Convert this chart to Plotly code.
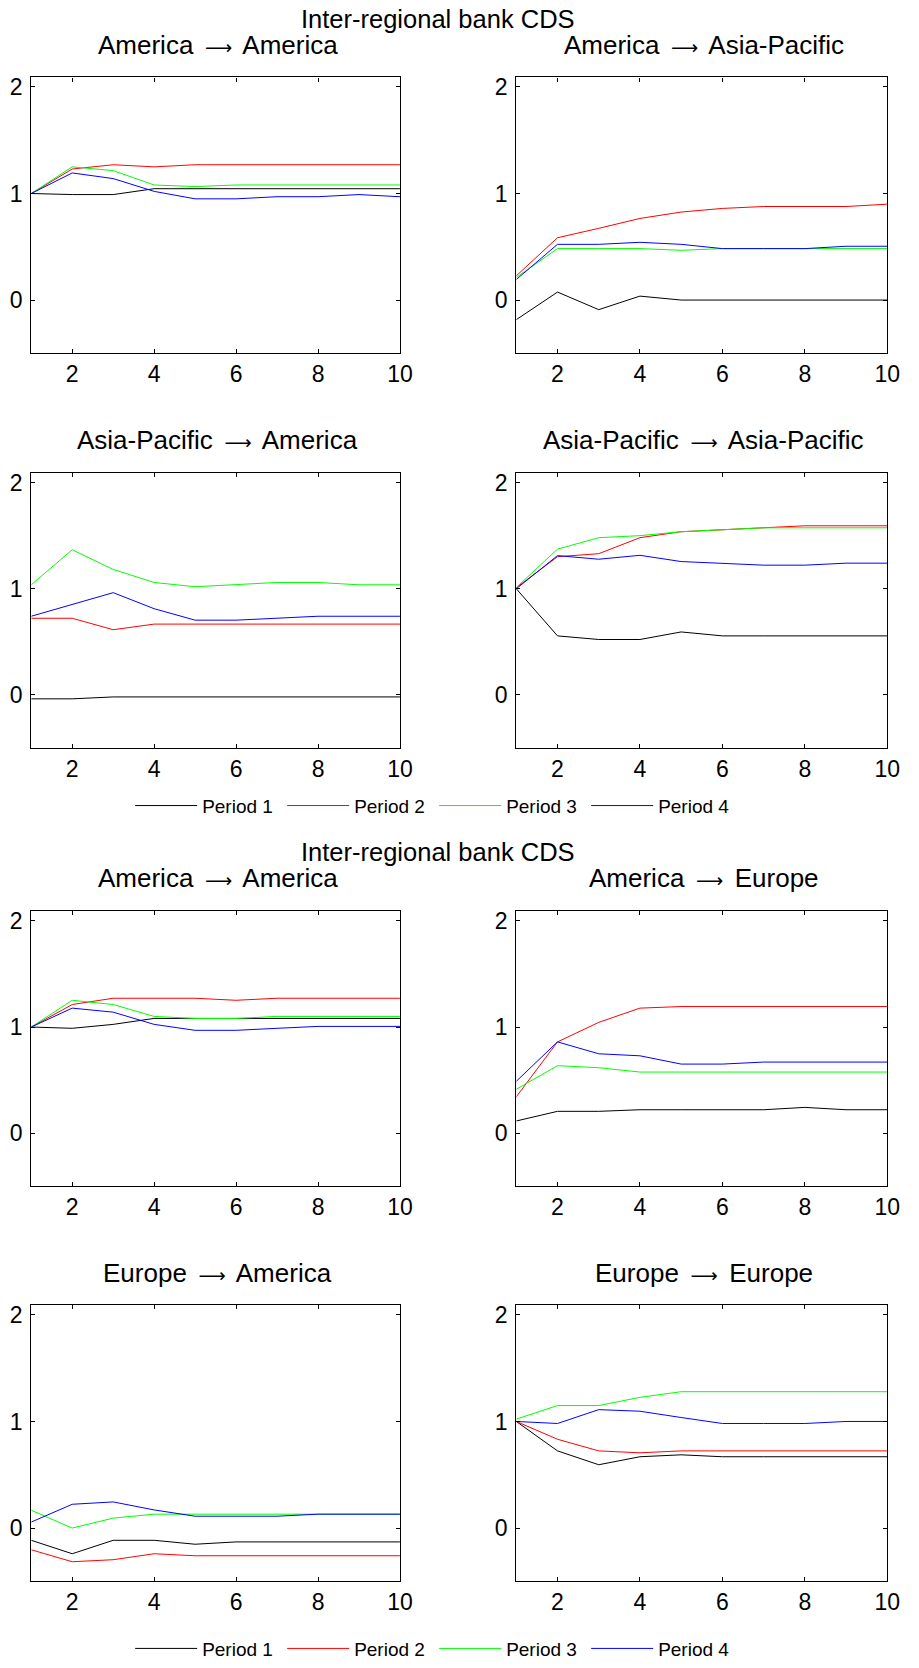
import plotly.graph_objects as go

# ---------------- data ----------------
steps = [1, 2, 3, 4, 5, 6, 7, 8, 9, 10]
period_names = ["Period 1", "Period 2", "Period 3", "Period 4"]
period_colors = ["#000000", "#FF0000", "#00FF00", "#0000FF"]

suptitle = "Inter-regional bank CDS"

ARROW = " \u2006<span style='font-family:DejaVu Sans;font-size:19px'>\u27f6</span>\u2006 "
titles_top = ["America" + ARROW + "America", "America" + ARROW + "Asia-Pacific",
              "Asia-Pacific" + ARROW + "America", "Asia-Pacific" + ARROW + "Asia-Pacific"]
titles_bottom = ["America" + ARROW + "America", "America" + ARROW + "Europe",
                 "Europe" + ARROW + "America", "Europe" + ARROW + "Europe"]

# Panel: America -> America (top block)
am_am_1 = [1.0, 0.99, 0.99, 1.045, 1.045, 1.045, 1.045, 1.045, 1.045, 1.045]
am_am_2 = [1.0, 1.23, 1.27, 1.25, 1.27, 1.27, 1.27, 1.27, 1.27, 1.27]
am_am_3 = [1.0, 1.25, 1.215, 1.08, 1.065, 1.08, 1.08, 1.08, 1.08, 1.08]
am_am_4 = [1.0, 1.193, 1.14, 1.02, 0.95, 0.95, 0.97, 0.97, 0.99, 0.97]

# Panel: America -> Asia-Pacific
am_ap_1 = [-0.184, 0.075, -0.09, 0.037, 0.0, 0.0, 0.0, 0.0, 0.0, 0.0]
am_ap_2 = [0.227, 0.585, 0.673, 0.766, 0.826, 0.86, 0.878, 0.878, 0.878, 0.90]
am_ap_3 = [0.212, 0.483, 0.483, 0.483, 0.467, 0.483, 0.483, 0.483, 0.483, 0.483]
am_ap_4 = [0.193, 0.523, 0.523, 0.542, 0.523, 0.483, 0.483, 0.483, 0.505, 0.505]

# Panel: Asia-Pacific -> America
ap_am_1 = [-0.037, -0.037, -0.019, -0.019, -0.019, -0.019, -0.019, -0.019, -0.019, -0.019]
ap_am_2 = [0.722, 0.722, 0.614, 0.667, 0.667, 0.667, 0.667, 0.667, 0.667, 0.667]
ap_am_3 = [1.037, 1.367, 1.182, 1.059, 1.019, 1.037, 1.059, 1.059, 1.037, 1.037]
ap_am_4 = [0.741, 0.852, 0.963, 0.812, 0.704, 0.704, 0.722, 0.741, 0.741, 0.741]

# Panel: Asia-Pacific -> Asia-Pacific
ap_ap_1 = [1.0, 0.556, 0.522, 0.522, 0.593, 0.556, 0.556, 0.556, 0.556, 0.556]
ap_ap_2 = [1.01, 1.302, 1.33, 1.481, 1.537, 1.556, 1.574, 1.593, 1.593, 1.593]
ap_ap_3 = [1.012, 1.373, 1.481, 1.5, 1.537, 1.556, 1.574, 1.574, 1.574, 1.574]
ap_ap_4 = [1.0, 1.312, 1.278, 1.315, 1.256, 1.241, 1.222, 1.222, 1.241, 1.241]

# Panel: America -> America (bottom block)
am_am_b1 = [1.0, 0.988, 1.025, 1.081, 1.081, 1.081, 1.081, 1.081, 1.081, 1.081]
am_am_b2 = [1.0, 1.212, 1.271, 1.271, 1.271, 1.252, 1.271, 1.271, 1.271, 1.271]
am_am_b3 = [1.0, 1.252, 1.212, 1.1, 1.081, 1.081, 1.1, 1.1, 1.1, 1.1]
am_am_b4 = [1.0, 1.178, 1.14, 1.025, 0.969, 0.969, 0.988, 1.006, 1.006, 1.006]

# Panel: America -> Europe
am_eu_1 = [0.115, 0.206, 0.206, 0.221, 0.221, 0.221, 0.221, 0.243, 0.221, 0.221]
am_eu_2 = [0.343, 0.86, 1.044, 1.178, 1.193, 1.193, 1.193, 1.193, 1.193, 1.193]
am_eu_3 = [0.414, 0.636, 0.617, 0.576, 0.576, 0.576, 0.576, 0.576, 0.576, 0.576]
am_eu_4 = [0.489, 0.86, 0.748, 0.729, 0.651, 0.651, 0.67, 0.67, 0.67, 0.67]

# Panel: Europe -> America
eu_am_1 = [-0.115, -0.241, -0.115, -0.115, -0.152, -0.13, -0.13, -0.13, -0.13, -0.13]
eu_am_2 = [-0.204, -0.316, -0.297, -0.241, -0.26, -0.26, -0.26, -0.26, -0.26, -0.26]
eu_am_3 = [0.167, 0.0, 0.093, 0.13, 0.13, 0.13, 0.13, 0.13, 0.13, 0.13]
eu_am_4 = [0.056, 0.223, 0.245, 0.17, 0.111, 0.111, 0.111, 0.13, 0.13, 0.13]

# Panel: Europe -> Europe
eu_eu_1 = [1.0, 0.724, 0.594, 0.669, 0.687, 0.669, 0.669, 0.669, 0.669, 0.669]
eu_eu_2 = [1.0, 0.833, 0.724, 0.706, 0.724, 0.724, 0.724, 0.724, 0.724, 0.724]
eu_eu_3 = [1.022, 1.149, 1.149, 1.226, 1.279, 1.279, 1.279, 1.279, 1.279, 1.279]
eu_eu_4 = [1.0, 0.981, 1.111, 1.096, 1.037, 0.981, 0.981, 0.981, 1.0, 1.0]

panels = [
    [am_am_1, am_am_2, am_am_3, am_am_4],
    [am_ap_1, am_ap_2, am_ap_3, am_ap_4],
    [ap_am_1, ap_am_2, ap_am_3, ap_am_4],
    [ap_ap_1, ap_ap_2, ap_ap_3, ap_ap_4],
    [am_am_b1, am_am_b2, am_am_b3, am_am_b4],
    [am_eu_1, am_eu_2, am_eu_3, am_eu_4],
    [eu_am_1, eu_am_2, eu_am_3, eu_am_4],
    [eu_eu_1, eu_eu_2, eu_eu_3, eu_eu_4],
]
panel_titles = titles_top + titles_bottom

x_ticks = [2, 4, 6, 8, 10]
y_ticks = [0, 1, 2]

# ---------------- layout geometry ----------------
W, H = 919, 1668
FONT = "Liberation Sans, Arial, sans-serif"

col_px = [(31.7, 405.7), (523.7, 900.0)]
row_px = [(75.0, 353.3), (474.0, 751.3), (916.0, 1193.3), (1313.3, 1591.7)]
title_y_px = [42.5, 440.5, 882.5, 1280.5]
suptitle_y_px = [16.5, 856.5]
legend_y_px = [809.5, 1659.5]


def px_x(v):
    return v / W


def px_y(v):
    return 1 - v / H


fig = go.Figure()
annotations = []

for i, series in enumerate(panels):
    r, c = divmod(i, 2)
    n = i + 1
    xa = "xaxis" if n == 1 else f"xaxis{n}"
    ya = "yaxis" if n == 1 else f"yaxis{n}"
    xref = "x" if n == 1 else f"x{n}"
    yref = "y" if n == 1 else f"y{n}"
    legend_id = "legend" if i == 0 else ("legend2" if i == 4 else None)
    for k, vals in enumerate(series):
        fig.add_trace(go.Scatter(
            x=steps, y=vals, mode="lines",
            name=period_names[k],
            line=dict(color=period_colors[k], width=1),
            xaxis=xref, yaxis=yref,
            showlegend=legend_id is not None,
            legend=legend_id if legend_id else "legend",
            hoverinfo="skip",
        ))
    x0, x1 = col_px[c]
    y0, y1 = row_px[r]
    common = dict(showgrid=False, zeroline=False, showline=True, linecolor="black",
                  linewidth=1.3, mirror="ticks", ticks="inside", ticklen=4,
                  tickcolor="black", tickwidth=1,
                  tickfont=dict(family=FONT, size=23, color="black"))
    fig.update_layout(**{
        xa: dict(domain=[px_x(x0), px_x(x1)], range=[1, 10], tickvals=x_ticks,
                 anchor=yref, ticklabelstandoff=0, **common),
        ya: dict(domain=[px_y(y1), px_y(y0)], range=[-0.5, 2.09], tickvals=y_ticks,
                 anchor=xref, ticklabelstandoff=3, **common),
    })
    annotations.append(dict(
        text=panel_titles[i], x=px_x((x0 + x1) / 2 + 2), y=px_y(title_y_px[r]),
        xref="paper", yref="paper", xanchor="center", yanchor="middle",
        showarrow=False, font=dict(family=FONT, size=26, color="black")))

for yy in suptitle_y_px:
    annotations.append(dict(
        text=suptitle, x=px_x(444), y=px_y(yy), xref="paper", yref="paper",
        xanchor="center", yanchor="middle", showarrow=False,
        font=dict(family=FONT, size=25.5, color="black")))

legend_common = dict(orientation="h", xanchor="left", yanchor="middle",
                     x=px_x(132), font=dict(family=FONT, size=19, color="black"),
                     bgcolor="rgba(0,0,0,0)", itemwidth=62,
                     entrywidth=75, entrywidthmode="pixels",
                     tracegroupgap=0)

fig.update_layout(
    width=W, height=H,
    margin=dict(l=0, r=0, t=0, b=0),
    paper_bgcolor="white", plot_bgcolor="white",
    annotations=annotations,
    legend=dict(y=px_y(legend_y_px[0]), **legend_common),
    legend2=dict(y=px_y(legend_y_px[1]), **legend_common),
    showlegend=True,
)

fig.write_html(
    "out.html",
    config={"displayModeBar": False},
    post_script="document.body.style.margin='0';document.body.style.overflow='hidden';",
)
